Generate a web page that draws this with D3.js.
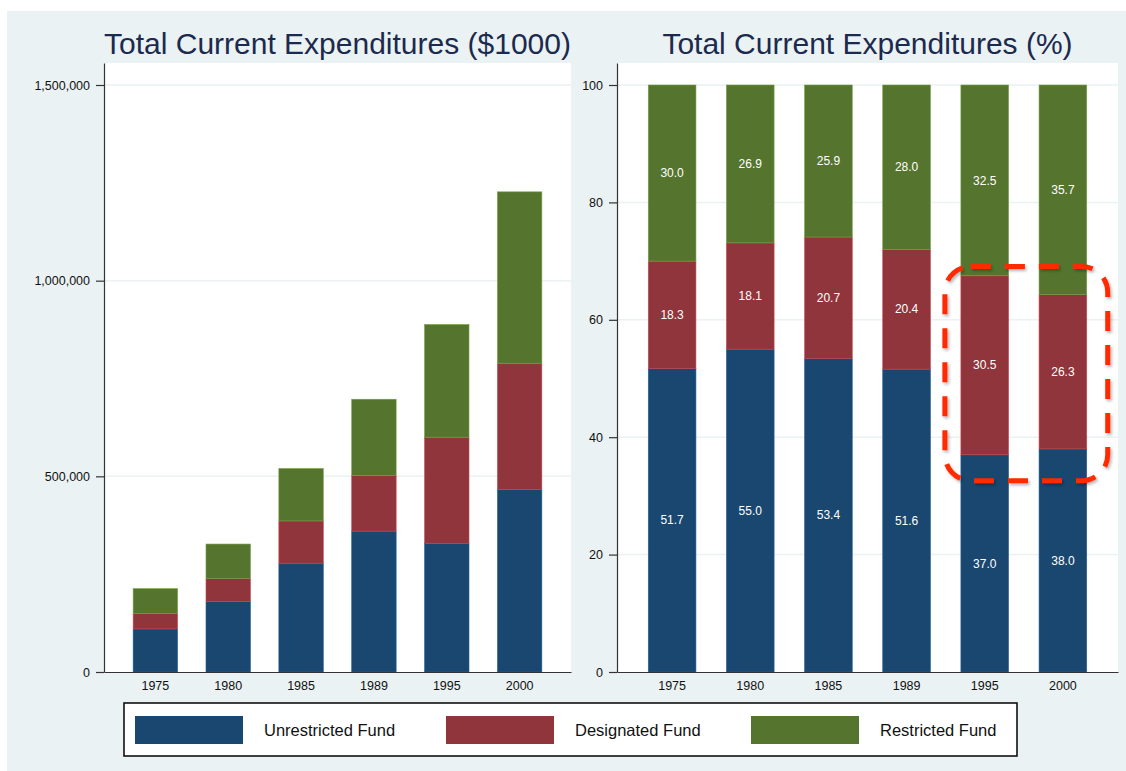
<!DOCTYPE html>
<html>
<head>
<meta charset="utf-8">
<script src="https://cdnjs.cloudflare.com/ajax/libs/d3/7.8.5/d3.min.js"></script>
<style>
body { margin: 0; background: #fff; }
svg { display: block; }
text { font-family: "Liberation Sans", Arial, Helvetica, sans-serif; }
</style>
</head>
<body>
<div class="chart"></div>
<script>
// data
var years = ['1975', '1980', '1985', '1989', '1995', '2000'];
var funds = ['Unrestricted Fund', 'Designated Fund', 'Restricted Fund'];
var fundColors = ['#1a476f', '#90353b', '#55752f'];

// amounts, $1000
var unrestricted = [110000, 180000, 278000, 360000, 329000, 466000];
var designated   = [39000, 59000, 108000, 142000, 271000, 323000];
var restricted   = [64000, 88000, 134000, 195000, 288000, 438000];

// shares, %
var unrestrictedPct = [51.7, 55.0, 53.4, 51.6, 37.0, 38.0];
var designatedPct   = [18.3, 18.1, 20.7, 20.4, 30.5, 26.3];
var restrictedPct   = [30.0, 26.9, 25.9, 28.0, 32.5, 35.7];

var amountTicks = [0, 500000, 1000000, 1500000];
var pctTicks = [0, 20, 40, 60, 80, 100];
var highlightYears = ['1995', '2000'];

var W = 1126, H = 771;
var keys = ['u', 'd', 'r'];

var svg = d3.select('.chart')
	.append('svg')
	.attr('width', W)
	.attr('height', H);

var defs = svg.append('defs');
defs.append('filter')
	.attr('id', 'shadow')
	.attr('x', '-10%').attr('y', '-10%').attr('width', '120%').attr('height', '120%')
	.append('feDropShadow')
	.attr('dx', 1.5).attr('dy', 2).attr('stdDeviation', 1.5)
	.attr('flood-color', '#000').attr('flood-opacity', 0.3);

// graph region background
svg.append('rect')
	.attr('x', 7).attr('y', 11)
	.attr('width', W - 7).attr('height', H - 11)
	.attr('fill', '#eaf2f3');

function buildRows(a, b, c) {
	var rows = [];
	for (var i = 0; i < years.length; i++) {
		rows.push({year: years[i], u: a[i], d: b[i], r: c[i]});
	}
	return rows;
}

function drawPanel(p) {
	var g = svg.append('g');

	g.append('rect')
		.attr('x', p.left).attr('y', p.top)
		.attr('width', p.right - p.left).attr('height', p.bottom - p.top)
		.attr('fill', '#fff');

	var x = d3.scaleBand()
		.domain(years)
		.range([p.left, p.right])
		.paddingInner(0.39)
		.paddingOuter(0.4);

	var y = d3.scaleLinear()
		.domain(p.domain)
		.range([p.bottom, p.top]);

	// gridlines
	g.selectAll('.grid')
		.data(p.ticks.filter(function(d) { return d > 0; }))
		.enter()
		.append('line')
		.attr('x1', p.left).attr('x2', p.right)
		.attr('y1', function(d) { return y(d); })
		.attr('y2', function(d) { return y(d); })
		.attr('stroke', '#eaf2f3')
		.attr('stroke-width', 1.5);

	var series = d3.stack().keys(keys)(p.rows);

	var layer = g.selectAll('.layer')
		.data(series)
		.enter()
		.append('g')
		.attr('fill', function(d, i) { return fundColors[i]; })
		.attr('stroke', function(d, i) { return d3.color(fundColors[i]).brighter(0.9); })
		.attr('stroke-width', 0.6);

	layer.selectAll('rect')
		.data(function(d) { return d; })
		.enter()
		.append('rect')
		.attr('x', function(d) { return x(d.data.year); })
		.attr('width', x.bandwidth())
		.attr('y', function(d) { return y(d[1]); })
		.attr('height', function(d) { return y(d[0]) - y(d[1]); });

	if (p.labels) {
		layer.selectAll('text')
			.data(function(d) { return d; })
			.enter()
			.append('text')
			.attr('x', function(d) { return x(d.data.year) + x.bandwidth() / 2; })
			.attr('y', function(d) { return y((d[0] + d[1]) / 2); })
			.attr('dy', '0.35em')
			.attr('text-anchor', 'middle')
			.attr('fill', '#fff')
			.attr('stroke', 'none')
			.style('font-size', '12px')
			.text(function(d) { return d3.format('.1f')(d[1] - d[0]); });
	}

	var yAxis = d3.axisLeft(y)
		.tickValues(p.ticks)
		.tickSize(8)
		.tickSizeOuter(0)
		.tickPadding(6)
		.tickFormat(p.format);

	var yg = g.append('g')
		.attr('transform', 'translate(' + p.left + ',0)')
		.call(yAxis);

	var xAxis = d3.axisBottom(x)
		.tickSize(0)
		.tickSizeOuter(0)
		.tickPadding(9);

	var xg = g.append('g')
		.attr('transform', 'translate(0,' + p.bottom + ')')
		.call(xAxis);

	[yg, xg].forEach(function(a) {
		a.selectAll('text').style('font-size', '12.5px').attr('fill', '#111');
		a.selectAll('path, line').attr('stroke', '#333').attr('stroke-width', 1.2);
	});

	g.append('text')
		.attr('x', (p.left + p.right) / 2)
		.attr('y', 54)
		.attr('text-anchor', 'middle')
		.attr('fill', '#1b2a4e')
		.style('font-size', '30px')
		.text(p.title);

	return {x: x, y: y, g: g};
}

var left = drawPanel({
	left: 104, right: 571, top: 63, bottom: 672,
	domain: [0, 1500000 * 609 / 587],
	ticks: amountTicks,
	format: d3.format(','),
	rows: buildRows(unrestricted, designated, restricted),
	labels: false,
	title: 'Total Current Expenditures ($1000)'
});

var right = drawPanel({
	left: 617, right: 1118, top: 63, bottom: 672,
	domain: [0, 100 * 609 / 587],
	ticks: pctTicks,
	format: d3.format('d'),
	rows: buildRows(unrestrictedPct, designatedPct, restrictedPct),
	labels: true,
	title: 'Total Current Expenditures (%)'
});

// dashed highlight round the 1995 and 2000 bars
var hx = right.x, hy = right.y;
var hx0 = hx(highlightYears[0]) - 16;
var hx1 = hx(highlightYears[1]) + hx.bandwidth() + 21;
var hy0 = hy(69.1), hy1 = hy(32.6);
svg.append('rect')
	.attr('x', hx0).attr('y', hy0)
	.attr('width', hx1 - hx0).attr('height', hy1 - hy0)
	.attr('rx', 26).attr('ry', 26)
	.attr('fill', 'none')
	.attr('stroke', '#ff2a05')
	.attr('stroke-width', 5)
	.attr('stroke-dasharray', '20 14')
	.attr('filter', 'url(#shadow)');

// legend
var lg = svg.append('g');
lg.append('rect')
	.attr('x', 124).attr('y', 703)
	.attr('width', 893).attr('height', 53)
	.attr('fill', '#fff')
	.attr('stroke', '#111')
	.attr('stroke-width', 1.6);

var legendX = [135, 446, 751];
var item = lg.selectAll('.item')
	.data(funds)
	.enter()
	.append('g')
	.attr('transform', function(d, i) { return 'translate(' + legendX[i] + ',716)'; });

item.append('rect')
	.attr('width', 108).attr('height', 28)
	.attr('fill', function(d, i) { return fundColors[i]; });

item.append('text')
	.attr('x', 129).attr('y', 14)
	.attr('dy', '0.35em')
	.attr('fill', '#111')
	.style('font-size', '16.5px')
	.text(function(d) { return d; });
</script>
</body>
</html>
